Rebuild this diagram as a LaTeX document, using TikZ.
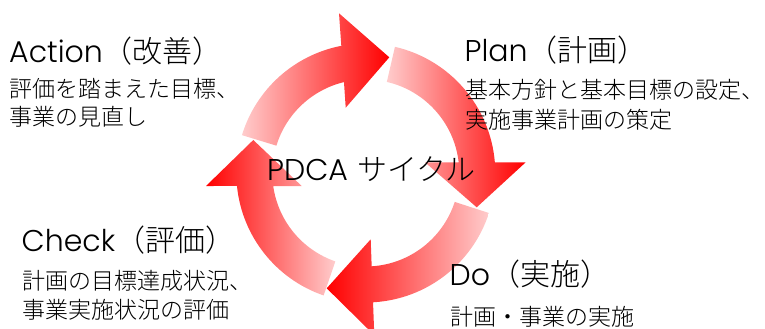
\documentclass[tikz,border=0pt]{standalone}
\usepackage{fontspec}
\IfFontExistsTF{Noto Sans CJK JP Light}{\newfontfamily\jp{Noto Sans CJK JP Light}}{\newfontfamily\jp{Noto Sans CJK JP}}
\IfFontExistsTF{Poppins Light}{\newfontfamily\lat{Poppins Light}}{\newfontfamily\lat{Poppins}}
\definecolor{lightpk}{RGB}{255,204,204}
\definecolor{redend}{RGB}{255,0,0}
\begin{document}
\begin{tikzpicture}[x=1pt,y=1pt,
  pinkred/.style={left color=lightpk, right color=redend},
  redpink/.style={left color=redend, right color=lightpk},
  title/.style={anchor=base west, inner sep=0pt, font=\fontsize{30}{30}\selectfont},
  body/.style={anchor=base west, inner sep=0pt, font=\jp\fontsize{23}{23}\selectfont}]
\useasboundingbox (0,0) rectangle (765,-329);
\clip (0,0) rectangle (765,-329);
\begin{scope}[shift={(365.8,-173)}]
  % top arrow (Action -> Plan)
  \shade[pinkred] (163:129.5) arc[start angle=163,end angle=100.9,radius=129.5]
     -- (-26.8,159.7) -- (23.5,115.7) -- (-20.1,65.3)
     -- (103.5:93.5) arc[start angle=103.5,end angle=163,radius=93.5] -- cycle;
  % right arrow (Plan -> Do)
  \shade[pinkred] (77:129.5) arc[start angle=77,end angle=4.74,radius=129.5]
     -- (159.9,10.7) -- (110.9,-34.3) -- (59.2,10.7)
     -- (6.57:93.5) arc[start angle=6.57,end angle=77,radius=93.5] -- cycle;
  % bottom arrow (Do -> Check)
  \shade[redpink] (-18:129.5) arc[start angle=-18,end angle=-86.8,radius=129.5]
     -- (8.5,-162.2) -- (-39.1,-115.3) -- (4.9,-66.3)
     -- (-86.4:93.5) arc[start angle=-86.4,end angle=-18,radius=93.5] -- cycle;
  % left arrow (Check -> Action)
  \shade[redpink] (251:129.5) arc[start angle=251,end angle=185.76,radius=129.5]
     -- (-159.8,-13) -- (-112.5,33) -- (-64.1,-13)
     -- (188:93.5) arc[start angle=188,end angle=251,radius=93.5] -- cycle;
\end{scope}
\node[title] (act) at (9,-63) {{\lat Action}\jp（改善）};
\node[body] (act1) at (9,-97) {評価を踏まえた目標、};
\node[body] (act2) at (9,-125) {事業の見直し};
\node[title] (pln) at (464.5,-62) {{\lat Plan}\jp（計画）};
\node[body] (pln1) at (465.5,-98.5) {基本方針と基本目標の設定、};
\node[body] (pln2) at (465.5,-128.5) {実施事業計画の策定};
\node[title] (chk) at (21.5,-251.5) {{\lat Check}\jp（評価）};
\node[body] (chk1) at (22.5,-289) {計画の目標達成状況、};
\node[body] (chk2) at (22.5,-318) {事業実施状況の評価};
\node[title] (do) at (449.5,-285) {{\lat Do}\jp（実施）};
\node[body] (do1) at (450.5,-325.5) {計画・事業の実施};
\node[title] (ctr) at (267,-180) {{\lat PDCA} \jp サイクル};
\end{tikzpicture}
\end{document}
